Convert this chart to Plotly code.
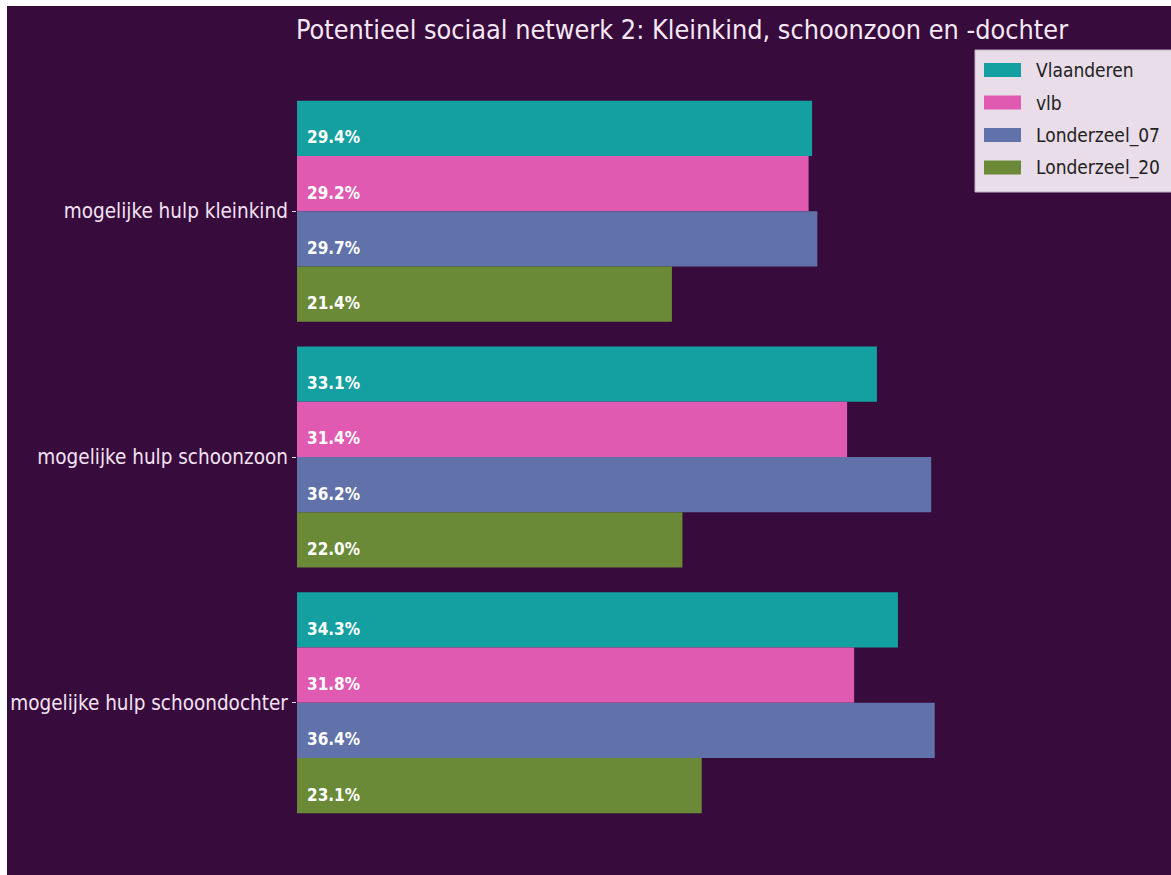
import plotly.graph_objects as go

# data
categories = ["mogelijke hulp kleinkind", "mogelijke hulp schoonzoon", "mogelijke hulp schoondochter"]
series_names = ["Vlaanderen", "vlb", "Londerzeel_07", "Londerzeel_20"]
vlaanderen = [29.4, 33.1, 34.3]
vlb = [29.2, 31.4, 31.8]
londerzeel_07 = [29.7, 36.2, 36.4]
londerzeel_20 = [21.4, 22.0, 23.1]
title_text = "Potentieel sociaal netwerk 2: Kleinkind, schoonzoon en -dochter"

series_values = [vlaanderen, vlb, londerzeel_07, londerzeel_20]
colors = ["#14a0a0", "#e05ab2", "#6171a9", "#6a8a38"]

BG = "#370b3b"
FONT = "DejaVu Sans Condensed, DejaVu Sans, sans-serif"

# white screenshot border at left / top of the original
OX, OY = 7, 6
W, H = 1171 - OX, 875 - OY
L, T = 297 - OX, 65 - OY
B = 875 - 849
R = 0
pw, ph = W - L - R, H - T - B


def px_x(s):
    # screen x -> paper x
    return (s - OX - L) / pw


def px_y(s):
    # screen y -> paper y
    return (T + ph - (s - OY)) / ph


fig = go.Figure()
for name, vals, col in zip(series_names, series_values, colors):
    fig.add_trace(go.Bar(
        y=categories, x=vals, name=name, orientation="h",
        marker=dict(color=col, line=dict(width=0)),
    ))

# value labels, left inside each bar, slightly below bar centre
n = len(series_names)
bar_h = 0.9 / n
annotations = []
for j, vals in enumerate(series_values):
    for i, v in enumerate(vals):
        annotations.append(dict(
            x=0, y=i + (j - (n - 1) / 2) * bar_h, xref="x", yref="y",
            text=f"<b>{v:.1f}%</b>", showarrow=False,
            xanchor="left", yanchor="middle", xshift=8, yshift=-9,
            font=dict(family=FONT, size=17, color="white"),
        ))

# hand-drawn legend (wide swatches like the original)
shapes = [dict(
    type="rect", xref="paper", yref="paper", layer="above",
    x0=px_x(975), x1=px_x(1195), y0=px_y(192), y1=px_y(50),
    fillcolor="#e9dde9", line=dict(color="#bfb0bf", width=1),
)]
for k, (name, col) in enumerate(zip(series_names, colors)):
    cy = 70 + k * 32.5
    shapes.append(dict(
        type="rect", xref="paper", yref="paper", layer="above",
        x0=px_x(984), x1=px_x(1021), y0=px_y(cy + 7), y1=px_y(cy - 7),
        fillcolor=col, line=dict(width=0),
    ))
    annotations.append(dict(
        x=px_x(1034), y=px_y(cy), xref="paper", yref="paper",
        text=name, showarrow=False, xanchor="left", yanchor="middle",
        font=dict(family=FONT, size=19, color="#222222"),
    ))

fig.update_layout(
    width=W, height=H,
    margin=dict(l=L, r=R, t=T, b=B, pad=0),
    paper_bgcolor=BG, plot_bgcolor=BG,
    barmode="group", bargap=0.1, bargroupgap=0,
    showlegend=False,
    title=dict(text=title_text, x=(682 - OX) / W, xanchor="center", y=1 - (30 - OY) / H,
               yanchor="middle", xref="container", yref="container",
               font=dict(family=FONT, size=26.8, color="#f6e8f6")),
    xaxis=dict(range=[0, pw / 17.52], visible=False, showgrid=False, zeroline=False),
    yaxis=dict(range=[len(categories) - 0.5 + 0.095, -0.595], showgrid=False, zeroline=False,
               ticks="outside", ticklen=4, tickcolor="#e8d8e8", showline=False,
               tickfont=dict(family=FONT, size=20.5, color="#f4e2f4")),
    annotations=annotations,
    shapes=shapes,
)

page_css = (
    "var h=document.documentElement.style; h.overflow='hidden'; h.background='%s';"
    "var b=document.body.style; b.margin='0'; b.background='transparent';"
    "b.borderLeft='%dpx solid white'; b.borderTop='%dpx solid white';" % (BG, OX, OY)
)
fig.write_html("out.html", post_script=page_css)
